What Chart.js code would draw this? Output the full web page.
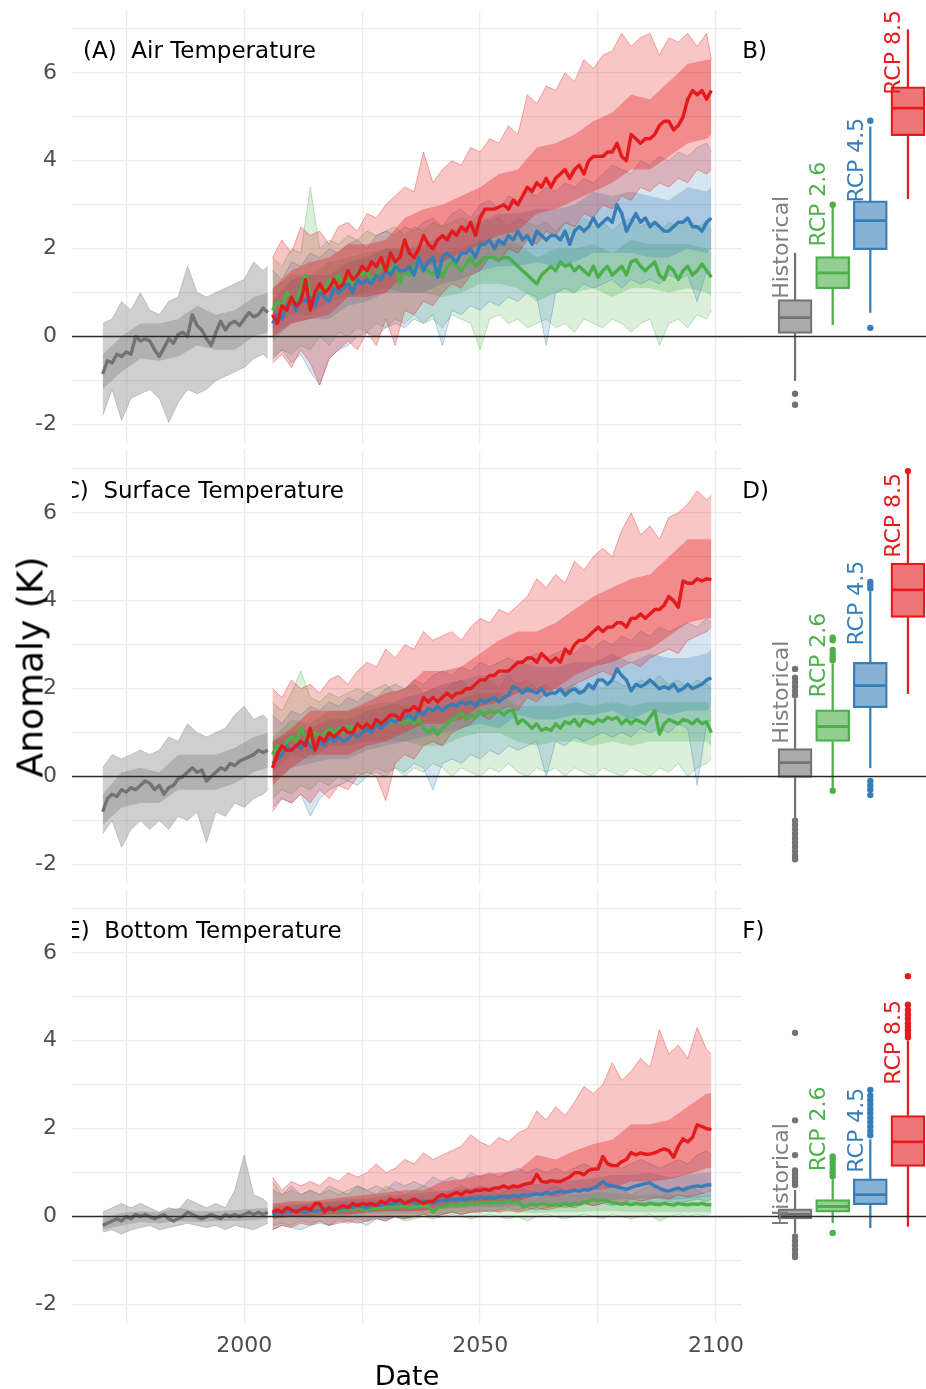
<!DOCTYPE html>
<html>
<head>
<meta charset="utf-8">
<script src="https://cdn.jsdelivr.net/npm/chart.js@4.4.1/dist/chart.umd.min.js"></script>
<style>
    body { margin: 0; background: #fff; width: 926px; height: 1389px; position: relative; overflow: hidden; font-family: "DejaVu Sans", sans-serif; }
    canvas { position: absolute; }
    .axis-title { position: absolute; white-space: nowrap; color: #000; transform: translate(-50%, -50%); }
    #y-title { left: 30px; top: 667px; font-size: 36px; transform: translate(-50%, -50%) rotate(-90deg); }
    #x-title { left: 407px; top: 1375px; font-size: 27px; }
</style>
</head>
<body>
<canvas id="lineA" width="760" height="443" style="left:0;top:0"></canvas>
<canvas id="lineC" width="760" height="443" style="left:0;top:440px"></canvas>
<canvas id="lineE" width="760" height="493" style="left:0;top:880px"></canvas>
<canvas id="boxB" width="184" height="443" style="left:742px;top:0"></canvas>
<canvas id="boxD" width="184" height="443" style="left:742px;top:440px"></canvas>
<canvas id="boxF" width="184" height="443" style="left:742px;top:880px"></canvas>
<div class="axis-title" id="y-title">Anomaly (K)</div>
<div class="axis-title" id="x-title">Date</div>

<script>
// ---- categories / ticks ----
const scenarios = ["Historical", "RCP 2.6", "RCP 4.5", "RCP 8.5"];
const scenarioColors = ["#737373", "#4daf4a", "#377eb8", "#e41a1c"];
const boxPositions = [1, 2, 3, 4];
const xGridYears = [1975, 2000, 2025, 2050, 2075, 2100];
const xLabelYears = [2000, 2050, 2100];
const yGridValues = [-2, -1, 0, 1, 2, 3, 4, 5, 6, 7];
const yLabelValues = [-2, 0, 2, 4, 6];

function range(a, b) { const out = []; for (let v = a; v <= b; v++) out.push(v); return out; }
function stepYears(a, b, step) { const out = []; for (let v = a; v < b; v += step) out.push(v); out.push(b); return out; }

const histYears = range(1970, 2005);
const rcpYears = range(2006, 2099);
const histEnvYears = stepYears(1970, 2005, 2);
const rcpEnvYears = stepYears(2006, 2099, 2);
const histCoreYears = stepYears(1970, 2005, 4);
const rcpCoreYears = stepYears(2006, 2099, 4);

// ---- (A) Air temperature ----
const airHistMean = [-0.85,-0.55,-0.6,-0.4,-0.45,-0.35,-0.4,0.0,-0.1,-0.05,
    -0.1,-0.3,-0.45,-0.25,-0.05,-0.15,0.05,0.1,0.0,0.5,
    0.25,0.15,-0.05,-0.2,0.1,0.35,0.15,0.3,0.35,0.25,
    0.4,0.55,0.45,0.5,0.65,0.55];
const airHistHi = [0.3,0.4,0.8,0.6,1.0,0.6,0.5,0.8,0.9,1.6,1.0,0.9,1.0,1.1,1.2,1.3,1.7,1.5,1.6];
const airHistLo = [-1.8,-1.2,-1.9,-1.4,-1.3,-1.2,-1.4,-1.95,-1.5,-1.2,-1.3,-1.2,-1.0,-0.9,-0.8,-0.7,-0.5,-0.4,-0.5];
const airHistCoreHi = [-0.4,0.0,0.3,0.3,0.4,0.7,0.5,0.6,0.9,1.0];
const airHistCoreLo = [-1.2,-0.8,-0.5,-0.55,-0.45,-0.2,-0.3,-0.3,0.0,0.1];

const airRcp26 = [0.6,0.8,0.7,1.0,0.9,0.8,1.1,1.4,0.9,1.0,
    1.1,1.0,1.3,1.2,1.4,1.1,1.3,1.2,1.5,1.4,
    1.5,1.3,1.4,1.6,1.6,1.5,1.7,1.2,1.5,1.4,
    1.6,1.7,1.5,1.5,1.4,1.6,1.35,1.6,1.7,1.6,
    1.5,1.65,1.8,1.6,1.7,1.8,1.8,1.8,1.75,1.8,
    1.8,1.7,1.6,1.5,1.4,1.3,1.2,1.4,1.5,1.6,
    1.5,1.7,1.6,1.65,1.5,1.6,1.5,1.4,1.6,1.35,
    1.5,1.6,1.4,1.5,1.6,1.4,1.7,1.75,1.6,1.5,
    1.6,1.7,1.4,1.3,1.6,1.5,1.3,1.5,1.6,1.4,
    1.5,1.65,1.5,1.35];
const airRcp45 = [0.3,0.5,0.4,0.7,0.8,0.6,0.9,0.8,0.9,0.7,
    1.0,0.9,0.8,1.1,1.0,1.1,1.2,1.0,1.3,1.2,
    1.3,1.2,1.4,1.3,1.5,1.4,1.6,1.5,1.5,1.6,
    1.4,1.8,1.5,1.7,1.8,1.35,1.8,1.9,1.8,1.7,
    1.9,1.9,2.0,1.8,2.1,2.1,2.2,2.0,2.2,2.1,
    2.3,2.2,2.4,2.2,2.3,2.1,2.4,2.3,2.2,2.3,
    2.3,2.2,2.4,2.1,2.4,2.5,2.4,2.5,2.7,2.5,
    2.6,2.7,2.6,3.0,2.8,2.4,2.6,2.8,2.6,2.7,
    2.5,2.6,2.5,2.4,2.4,2.5,2.6,2.6,2.7,2.5,
    2.5,2.4,2.6,2.7];
const airRcp85 = [0.5,0.3,0.7,0.6,0.9,0.7,0.8,1.3,0.6,1.0,
    1.2,1.0,1.1,1.3,1.1,1.2,1.5,1.3,1.4,1.6,
    1.5,1.7,1.6,1.8,1.5,1.9,1.7,1.8,2.2,1.9,
    1.8,2.0,2.3,2.1,2.0,2.2,2.3,2.2,2.4,2.3,
    2.5,2.4,2.6,2.3,2.7,2.9,2.9,2.9,2.95,3.0,
    2.9,3.1,3.0,3.2,3.4,3.3,3.5,3.4,3.6,3.4,
    3.6,3.7,3.8,3.6,3.8,3.9,3.7,4.0,4.1,4.1,
    4.1,4.2,4.2,4.4,4.1,4.0,4.6,4.5,4.4,4.5,
    4.5,4.6,4.8,4.9,4.9,4.7,4.8,5.0,5.4,5.6,
    5.5,5.6,5.4,5.6];

const airRcp26Hi = [1.8,1.6,2.0,1.9,3.4,2.0,2.2,2.1,2.3,2.2,
    2.4,2.3,2.4,2.5,2.3,2.5,2.4,2.6,2.5,2.6,
    2.7,2.6,2.8,2.6,2.7,2.5,2.7,2.6,2.5,2.6,
    2.4,2.6,2.5,2.7,2.5,2.6,2.4,2.6,2.7,2.5,
    2.6,2.4,2.6,2.5,2.7,2.5,2.6,2.4];
const airRcp26Lo = [-0.5,-0.3,-0.4,-0.2,-0.3,0.0,-0.2,0.1,0.0,0.2,
    0.1,0.3,0.2,0.4,0.3,0.5,0.3,0.4,0.2,0.5,
    0.4,0.3,-0.3,0.4,0.5,0.3,0.4,0.2,0.3,0.4,
    0.2,0.3,0.1,0.4,0.3,0.2,0.4,0.3,0.1,0.3,
    0.4,-0.2,0.3,0.4,0.2,0.5,0.4,0.6];
const airRcp45Hi = [1.5,1.3,1.7,1.6,1.9,1.8,2.0,1.9,2.1,2.2,
    2.0,2.3,2.4,2.3,2.5,2.4,2.6,2.7,2.5,2.8,
    2.9,2.7,3.0,3.1,2.9,3.2,3.1,3.3,3.2,3.4,
    3.3,3.5,3.4,3.6,3.5,3.7,3.9,3.8,3.7,4.0,
    3.9,4.1,4.0,4.2,4.1,4.3,4.4,4.2];
const airRcp45Lo = [-0.5,-0.3,-0.6,-0.4,-0.8,-1.1,-0.5,-0.3,-0.2,0.0,
    0.1,0.0,0.2,0.3,0.2,0.4,0.3,0.5,-0.2,0.6,
    0.5,0.7,0.6,0.8,0.7,0.9,0.8,1.0,0.9,-0.2,
    1.0,1.1,1.0,1.2,1.1,1.2,1.3,1.1,1.3,1.2,
    1.3,1.2,1.4,1.3,1.4,0.8,1.5,1.4];
const airRcp85Hi = [1.8,2.2,1.9,2.5,2.3,2.4,2.1,2.5,2.6,2.4,
    2.8,2.7,3.0,3.2,3.4,3.3,4.2,3.5,3.8,4.0,
    3.9,4.3,4.2,4.5,4.4,4.8,4.6,5.5,5.3,5.7,
    5.6,6.0,5.8,6.3,6.1,6.4,6.5,6.9,6.6,6.8,
    6.9,6.4,6.8,6.7,6.9,6.6,6.9,6.3];
const airRcp85Lo = [-0.6,-0.4,-0.7,-0.3,-0.6,-1.1,-0.5,-0.3,-0.1,-0.3,
    0.1,-0.2,0.4,-0.2,0.6,0.5,0.8,0.7,1.0,1.2,
    1.1,1.4,1.5,1.8,1.7,2.0,1.9,2.2,2.1,2.4,
    2.3,2.6,2.5,2.8,2.7,3.0,2.9,3.2,3.1,3.4,
    3.3,3.5,3.4,3.6,3.5,3.8,3.7,3.8];

const airRcp26CoreHi = [1.1,1.4,1.4,1.7,1.8,1.9,2.0,2.0,2.0,1.9,2.0,2.2,2.2,2.1,1.8,2.0,2.0,2.1,1.9,2.2,2.1,2.1,2.1,2.0,1.9];
const airRcp26CoreLo = [0.2,0.5,0.5,0.8,0.9,1.0,1.1,1.0,1.0,0.9,1.0,1.2,1.2,1.1,0.8,1.0,1.0,1.1,0.9,1.1,1.1,1.0,1.1,1.0,0.9];
const airRcp45CoreHi = [0.8,1.3,1.4,1.4,1.7,1.8,2.0,2.0,2.1,2.3,2.5,2.6,2.8,2.8,2.9,2.9,3.0,3.3,3.2,3.3,3.2,3.1,3.4,3.3,3.4];
const airRcp45CoreLo = [-0.1,0.3,0.4,0.4,0.7,0.8,1.0,1.0,1.0,1.2,1.3,1.5,1.6,1.6,1.7,1.6,1.7,1.9,1.9,1.9,1.8,1.8,2.0,1.9,2.0];
const airRcp85CoreHi = [1.1,1.5,1.7,1.8,2.1,2.1,2.2,2.7,2.9,3.0,3.2,3.4,3.7,3.8,4.3,4.4,4.6,4.9,5.1,5.5,5.4,5.8,6.2,6.3,6.3];
const airRcp85CoreLo = [0.0,0.3,0.4,0.5,0.9,0.9,1.0,1.4,1.6,1.7,1.9,2.1,2.3,2.4,2.8,2.9,3.1,3.3,3.5,3.8,3.8,4.1,4.4,4.5,4.6];

// ---- (C) Surface temperature ----
const surfHistMean = [-0.8,-0.5,-0.4,-0.45,-0.3,-0.35,-0.25,-0.3,-0.2,-0.1,
    -0.15,-0.3,-0.2,-0.4,-0.25,-0.2,-0.05,0.0,0.1,0.2,
    0.1,0.15,-0.1,0.0,0.1,0.2,0.15,0.3,0.25,0.35,
    0.4,0.45,0.5,0.6,0.55,0.6];
const surfHistHi = [0.2,0.5,0.4,0.5,0.6,0.5,0.6,0.9,0.8,1.2,1.0,0.9,1.0,1.1,1.4,1.6,1.3,1.4,1.3];
const surfHistLo = [-1.3,-1.0,-1.6,-1.2,-1.0,-1.2,-1.0,-1.2,-0.9,-1.0,-0.8,-1.5,-0.8,-0.9,-0.6,-0.7,-0.5,-0.4,-0.3];
const surfHistCoreHi = [-0.4,0.1,0.2,0.1,0.5,0.5,0.5,0.65,0.9,1.0];
const surfHistCoreLo = [-1.1,-0.7,-0.6,-0.6,-0.3,-0.3,-0.3,-0.15,0.1,0.2];

const surfRcp26 = [0.5,0.7,0.6,0.8,0.9,0.8,1.1,0.9,0.8,1.0,
    0.9,1.0,1.1,1.0,1.1,1.0,1.15,1.1,1.2,1.1,
    1.2,1.1,1.25,1.2,1.3,1.2,1.3,1.25,1.2,1.3,
    1.2,1.3,1.1,1.0,1.1,0.95,1.1,1.2,1.3,1.35,
    1.45,1.3,1.4,1.35,1.5,1.4,1.5,1.45,1.5,1.4,
    1.5,1.5,1.2,1.3,1.2,1.1,1.2,1.05,1.1,1.05,
    1.2,1.1,1.25,1.2,1.3,1.15,1.3,1.25,1.2,1.3,
    1.25,1.35,1.3,1.35,1.2,1.3,1.2,1.3,1.25,1.2,
    1.35,1.5,0.97,1.2,1.3,1.25,1.2,1.3,1.27,1.2,
    1.3,1.2,1.25,1.0];
const surfRcp45 = [0.3,0.4,0.5,0.7,0.6,0.7,0.65,0.8,0.7,0.6,
    0.8,0.7,0.9,0.8,0.9,0.8,0.85,1.0,0.9,1.0,
    1.1,1.0,1.2,1.1,1.2,1.3,1.25,1.3,1.35,1.4,
    1.3,1.5,1.4,1.55,1.5,1.6,1.5,1.6,1.65,1.6,
    1.7,1.65,1.7,1.6,1.75,1.7,1.75,1.8,1.7,1.8,
    1.85,2.05,2.0,1.9,2.0,1.95,1.9,2.0,1.85,1.9,
    1.9,2.0,1.85,1.95,2.0,1.9,1.95,2.1,2.0,2.2,
    2.2,2.1,2.2,2.45,2.3,2.2,1.95,2.1,2.05,2.1,
    2.2,2.1,2.0,2.05,2.0,2.1,1.95,2.0,2.1,2.0,
    2.05,2.1,2.2,2.25];
const surfRcp85 = [0.2,0.5,0.7,0.6,0.6,0.7,0.8,0.7,1.1,0.6,
    0.9,0.8,1.0,0.9,1.0,1.1,1.0,1.0,1.2,1.1,
    1.2,1.1,1.3,1.2,1.3,1.4,1.4,1.3,1.5,1.5,
    1.6,1.5,1.8,1.7,1.8,1.7,1.8,1.9,1.8,1.9,
    1.9,2.0,2.0,2.1,2.2,2.2,2.3,2.3,2.4,2.4,
    2.4,2.5,2.6,2.6,2.7,2.7,2.6,2.8,2.7,2.6,
    2.7,2.6,2.9,2.8,3.0,3.1,3.1,3.2,3.3,3.4,
    3.3,3.4,3.4,3.5,3.5,3.4,3.6,3.6,3.7,3.6,
    3.7,3.8,3.8,3.9,4.1,4.0,3.85,4.45,4.4,4.4,
    4.5,4.45,4.5,4.48];

const surfRcp26Hi = [1.7,1.5,1.9,2.4,1.8,1.7,1.9,1.8,1.9,2.0,
    1.9,2.0,2.1,1.9,2.0,2.1,1.9,2.0,1.9,2.1,
    2.2,2.0,2.1,2.2,2.0,2.3,2.1,2.2,2.0,2.1,
    1.9,2.0,2.1,1.9,2.1,2.0,2.2,2.1,2.0,2.2,
    2.1,2.3,2.1,2.2,2.0,2.2,2.1,2.0];
const surfRcp26Lo = [-0.5,-0.3,-0.4,-0.2,-0.3,-0.1,-0.2,0.0,-0.1,0.1,
    0.0,0.2,0.1,0.2,0.0,0.2,0.1,0.3,0.2,0.0,
    0.2,0.1,0.0,0.2,0.1,0.3,0.1,0.0,0.2,0.1,
    0.2,0.0,0.2,0.1,0.0,0.2,0.1,0.0,0.2,0.1,
    0.0,0.2,0.1,0.3,0.0,0.2,0.3,0.4];
const surfRcp45Hi = [1.4,1.2,1.5,1.4,1.6,1.5,1.7,1.6,1.8,1.7,
    1.9,1.8,2.0,2.1,2.0,2.2,2.1,2.3,2.4,2.3,
    2.5,2.4,2.6,2.5,2.6,2.7,2.6,2.7,2.8,2.7,
    2.8,2.9,2.8,3.0,2.9,3.1,3.0,3.2,3.1,3.3,
    3.2,3.4,3.3,3.4,3.5,3.4,3.6,3.5];
const surfRcp45Lo = [-0.7,-0.5,-0.6,-0.4,-0.9,-0.5,-0.3,-0.2,-0.1,-0.2,
    0.0,0.1,0.0,0.2,0.1,0.3,0.2,-0.3,0.3,0.4,
    0.3,0.5,0.4,0.6,0.5,0.7,0.6,0.7,0.8,0.0,
    0.8,0.7,0.9,0.8,0.9,1.0,0.9,1.0,0.9,1.1,
    1.0,1.1,1.0,1.2,1.1,-0.2,1.2,1.3];
const surfRcp85Hi = [2.0,1.8,2.2,2.0,2.1,1.9,2.2,2.3,2.1,2.4,
    2.6,2.5,2.9,2.7,3.0,2.9,3.3,3.1,3.2,3.3,
    3.1,3.4,3.6,3.5,3.8,3.7,3.9,4.1,4.5,4.3,
    4.6,4.4,4.9,4.7,5.0,5.2,5.0,5.6,6.0,5.5,
    5.7,5.4,5.9,6.0,6.2,6.5,6.3,6.4];
const surfRcp85Lo = [-0.8,-0.5,-0.6,-0.4,-0.6,-0.3,-0.5,-0.2,-0.3,0.0,
    0.1,0.0,-0.55,0.3,0.5,0.4,0.7,0.8,0.7,1.0,
    1.1,1.2,1.4,1.3,1.5,1.6,1.5,1.8,1.7,1.9,
    2.0,1.9,2.1,2.2,2.3,2.4,2.3,2.5,2.6,2.5,
    2.7,2.8,2.9,2.8,3.1,3.2,3.3,3.4];

const surfRcp26CoreHi = [0.9,1.3,1.2,1.5,1.5,1.6,1.7,1.6,1.5,1.5,1.8,1.9,1.9,1.6,1.6,1.6,1.7,1.6,1.7,1.6,1.7,1.7,1.7,1.7,1.5];
const surfRcp26CoreLo = [0.1,0.5,0.4,0.7,0.7,0.8,0.8,0.8,0.7,0.7,0.9,1.0,1.0,0.8,0.7,0.8,0.8,0.7,0.8,0.7,0.8,0.8,0.8,0.8,0.7];
const surfRcp45CoreHi = [0.8,1.0,1.1,1.3,1.3,1.5,1.6,1.8,1.9,2.1,2.2,2.3,2.3,2.6,2.5,2.5,2.6,2.6,2.8,2.6,2.8,2.7,2.7,2.8,2.9];
const surfRcp45CoreLo = [-0.1,0.2,0.3,0.4,0.4,0.6,0.7,0.8,0.9,1.0,1.1,1.2,1.1,1.4,1.3,1.3,1.4,1.4,1.5,1.3,1.5,1.4,1.5,1.5,1.6];
const surfRcp85CoreHi = [0.8,1.1,1.5,1.5,1.5,1.7,1.9,2.0,2.4,2.4,2.5,2.8,3.1,3.3,3.3,3.5,3.8,4.1,4.3,4.5,4.6,5.0,5.4,5.4,5.4];
const surfRcp85CoreLo = [-0.2,0.2,0.5,0.5,0.5,0.7,0.8,1.0,1.2,1.2,1.3,1.6,1.7,1.9,1.9,2.0,2.3,2.5,2.6,2.8,2.9,3.2,3.5,3.6,3.6];

// ---- (E) Bottom temperature ----
const botHistMean = [-0.2,-0.15,-0.1,-0.05,-0.1,0.0,-0.05,0.05,0.0,0.05,
    0.0,-0.05,0.0,0.05,-0.05,-0.1,-0.05,0.0,0.1,0.05,
    0.0,-0.05,0.0,0.05,0.0,-0.05,0.05,0.0,0.05,0.0,
    0.05,0.1,0.05,0.1,0.05,0.1];
const botHistHi = [0.1,0.2,0.3,0.2,0.3,0.2,0.1,0.2,0.15,0.4,0.3,0.2,0.3,0.2,0.6,1.4,0.5,0.4,0.3];
const botHistLo = [-0.35,-0.3,-0.4,-0.3,-0.25,-0.2,-0.3,-0.25,-0.2,-0.15,-0.2,-0.25,-0.2,-0.3,-0.2,-0.25,-0.3,-0.2,-0.15];
const botHistCoreHi = [-0.05,0.08,0.12,0.1,0.2,0.12,0.12,0.15,0.18,0.2];
const botHistCoreLo = [-0.3,-0.2,-0.12,-0.15,-0.1,-0.12,-0.1,-0.1,-0.08,-0.05];

const botRcp26 = [0.1,0.12,0.1,0.15,0.12,0.1,0.14,0.12,0.15,0.13,
    0.15,0.13,0.16,0.15,0.17,0.16,0.18,0.16,0.2,0.18,
    0.16,0.2,0.18,0.22,0.2,0.23,0.2,0.22,0.25,0.2,
    0.23,0.22,0.25,0.23,0.1,0.2,0.22,0.25,0.28,0.25,
    0.3,0.27,0.3,0.28,0.3,0.32,0.3,0.33,0.3,0.32,
    0.34,0.32,0.34,0.23,0.25,0.28,0.26,0.3,0.27,0.25,
    0.28,0.27,0.3,0.26,0.3,0.28,0.32,0.35,0.39,0.36,
    0.38,0.35,0.32,0.3,0.28,0.3,0.27,0.3,0.28,0.27,
    0.3,0.28,0.27,0.3,0.28,0.26,0.3,0.28,0.27,0.29,
    0.28,0.3,0.27,0.27];
const botRcp45 = [0.05,0.1,0.08,0.12,0.1,0.15,0.12,0.1,0.15,0.12,
    0.15,0.18,0.15,0.2,0.18,0.2,0.22,0.2,0.25,0.22,
    0.2,0.25,0.28,0.25,0.3,0.28,0.3,0.32,0.3,0.35,
    0.32,0.3,0.35,0.33,0.3,0.35,0.38,0.36,0.4,0.38,
    0.4,0.39,0.42,0.4,0.45,0.42,0.44,0.42,0.45,0.46,
    0.44,0.48,0.45,0.5,0.48,0.5,0.52,0.5,0.55,0.52,
    0.55,0.58,0.55,0.58,0.6,0.58,0.62,0.6,0.65,0.7,
    0.8,0.72,0.7,0.68,0.65,0.62,0.66,0.7,0.72,0.75,
    0.77,0.7,0.65,0.6,0.58,0.62,0.65,0.6,0.65,0.68,
    0.7,0.68,0.72,0.72];
const botRcp85 = [0.1,0.15,0.1,0.2,0.15,0.1,0.16,0.2,0.15,0.3,
    0.3,0.1,0.2,0.15,0.2,0.25,0.2,0.3,0.25,0.3,
    0.27,0.3,0.25,0.35,0.3,0.4,0.35,0.39,0.3,0.35,
    0.4,0.35,0.3,0.35,0.34,0.45,0.5,0.45,0.5,0.55,
    0.5,0.58,0.55,0.6,0.6,0.62,0.6,0.65,0.65,0.7,
    0.65,0.7,0.68,0.72,0.75,0.77,0.96,0.8,0.78,0.82,
    0.8,0.8,0.85,0.9,1.0,1.0,0.95,1.05,1.08,1.08,
    1.37,1.2,1.16,1.16,1.25,1.3,1.46,1.4,1.45,1.42,
    1.42,1.45,1.5,1.54,1.5,1.35,1.6,1.77,1.7,1.8,
    2.09,2.05,2.0,1.98];

const botRcp26Hi = [0.8,0.5,0.6,0.5,0.6,0.5,0.6,0.5,0.6,0.7,
    0.6,0.5,0.7,0.6,0.5,0.6,0.7,0.6,0.5,0.6,
    0.7,0.6,0.7,0.6,0.5,0.6,0.7,0.6,0.5,0.6,
    0.7,0.6,0.5,0.6,0.7,0.6,0.7,0.6,0.5,0.6,
    0.7,0.6,0.5,0.6,0.7,0.6,0.5,0.6];
const botRcp26Lo = [-0.2,-0.15,-0.2,-0.1,-0.15,-0.1,-0.2,-0.05,-0.1,-0.05,
    -0.1,0.0,-0.05,0.0,-0.1,-0.05,0.0,-0.05,0.0,0.05,
    0.0,-0.05,0.0,0.05,0.0,-0.05,0.0,-0.1,0.0,0.05,
    0.0,-0.05,0.0,0.05,0.0,-0.05,0.05,0.0,-0.05,0.0,
    0.05,-0.1,0.0,0.05,0.0,0.05,0.0,0.1];
const botRcp45Hi = [0.6,0.5,0.7,0.5,0.6,0.5,0.7,0.6,0.5,0.7,
    0.6,0.7,0.6,0.8,0.7,0.8,0.7,0.9,0.8,0.9,
    0.8,1.0,0.9,1.0,0.9,1.0,1.1,1.0,1.1,1.0,
    1.1,1.0,1.1,1.2,1.1,1.3,1.2,1.1,1.2,1.3,
    1.2,1.1,1.2,1.3,1.2,1.4,1.5,1.4];
const botRcp45Lo = [-0.3,-0.2,-0.25,-0.3,-0.2,-0.15,-0.2,-0.1,-0.15,-0.1,
    -0.2,-0.05,-0.1,0.0,-0.05,0.0,0.05,0.0,0.05,0.1,
    0.05,0.1,0.15,0.1,0.15,0.2,0.15,0.2,0.15,0.2,
    0.25,0.2,0.25,0.3,0.25,0.3,0.25,0.3,0.35,0.3,
    0.35,0.3,0.35,0.3,0.35,0.4,0.35,0.4];
const botRcp85Hi = [0.9,0.6,0.8,0.7,0.8,0.7,0.9,0.8,1.0,0.9,
    1.0,1.2,1.0,1.1,1.3,1.2,1.45,1.3,1.4,1.5,
    1.6,1.86,1.7,1.6,1.8,1.7,1.9,2.0,2.4,2.2,
    2.5,2.3,2.6,2.96,2.8,3.0,3.5,3.1,3.3,3.6,
    3.4,4.25,3.7,3.9,3.6,4.3,3.8,3.7];
const botRcp85Lo = [-0.3,-0.2,-0.25,-0.15,-0.2,-0.1,-0.2,-0.15,-0.1,-0.15,
    -0.1,-0.05,-0.1,0.0,-0.05,0.0,0.05,0.0,0.05,0.1,
    0.05,0.1,0.1,0.15,0.1,0.15,0.1,0.15,0.2,0.15,
    0.2,0.25,0.2,0.3,0.25,0.3,0.35,0.3,0.4,0.35,
    0.4,0.45,0.4,0.5,0.45,0.5,0.55,0.6];

const botRcp26CoreHi = [0.25,0.3,0.3,0.32,0.35,0.38,0.4,0.4,0.42,0.42,0.48,0.5,0.52,0.5,0.45,0.48,0.5,0.55,0.55,0.5,0.5,0.5,0.48,0.48,0.48];
const botRcp26CoreLo = [-0.02,0.0,0.0,0.02,0.02,0.05,0.05,0.06,0.06,0.05,0.1,0.1,0.12,0.1,0.08,0.1,0.1,0.12,0.12,0.1,0.1,0.1,0.1,0.1,0.1];
const botRcp45CoreHi = [0.2,0.25,0.3,0.35,0.4,0.42,0.48,0.5,0.55,0.58,0.62,0.68,0.68,0.72,0.75,0.78,0.82,0.88,0.95,0.95,1.0,0.9,0.95,1.0,1.0];
const botRcp45CoreLo = [-0.05,0.0,0.0,0.05,0.05,0.08,0.12,0.12,0.15,0.18,0.2,0.22,0.22,0.25,0.28,0.28,0.32,0.35,0.38,0.4,0.42,0.38,0.4,0.45,0.45];
const botRcp85CoreHi = [0.3,0.35,0.35,0.4,0.45,0.5,0.55,0.6,0.6,0.8,0.85,0.95,1.0,1.05,1.4,1.3,1.5,1.65,1.75,2.1,2.1,2.2,2.5,2.8,2.8];
const botRcp85CoreLo = [-0.05,0.0,0.0,0.05,0.05,0.1,0.12,0.12,0.12,0.25,0.25,0.3,0.35,0.35,0.5,0.45,0.55,0.6,0.65,0.8,0.8,0.85,0.95,1.1,1.1];

// ---- box summaries (Historical, RCP 2.6, RCP 4.5, RCP 8.5) ----
const airBoxLow = [-1.0, 0.27, 0.55, 3.14];
const airBoxQ1 = [0.07, 1.09, 1.98, 4.57];
const airBoxMed = [0.43, 1.45, 2.64, 5.2];
const airBoxQ3 = [0.84, 1.82, 3.09, 5.68];
const airBoxHigh = [1.9, 3.0, 4.77, 6.98];
const airOutliers = [[-1.3, -1.55], [3.0], [4.91, 0.2], []];
const airLabelY = [0.86, 2.05, 3.05, 5.5];

const surfBoxLow = [-0.93, -0.25, 0.2, 1.89];
const surfBoxQ1 = [-0.02, 0.8, 1.57, 3.62];
const surfBoxMed = [0.32, 1.14, 2.07, 4.25];
const surfBoxQ3 = [0.64, 1.52, 2.6, 4.86];
const surfBoxHigh = [1.77, 2.57, 4.2, 6.88];
const surfOutliers = [
    [1.85, 1.95, 2.05, 2.15, 2.25, 2.45, -1.0, -1.1, -1.2, -1.3, -1.4, -1.5, -1.6, -1.7, -1.8, -1.88],
    [2.65, 2.72, 2.8, 2.88, 3.1, 3.16, -0.32],
    [4.28, 4.36, 4.43, -0.1, -0.2, -0.3, -0.42],
    [6.95]
];
const surfLabelY = [0.75, 1.8, 2.98, 4.98];

const botBoxLow = [-0.37, -0.14, -0.25, -0.22];
const botBoxQ1 = [-0.05, 0.1, 0.27, 1.14];
const botBoxMed = [0.05, 0.23, 0.5, 1.7];
const botBoxQ3 = [0.18, 0.39, 0.86, 2.3];
const botBoxHigh = [0.6, 0.84, 1.75, 4.0];
const botOutliers = [
    [0.72, 0.8, 0.88, 0.96, 1.05, 1.4, 2.19, 4.18, -0.45, -0.55, -0.65, -0.75, -0.85, -0.92],
    [0.92, 1.0, 1.08, 1.16, 1.24, 1.32, 1.37, -0.37],
    [1.85, 1.95, 2.05, 2.15, 2.25, 2.35, 2.45, 2.55, 2.65, 2.75, 2.88],
    [4.08, 4.16, 4.24, 4.32, 4.4, 4.5, 4.6, 4.7, 4.82, 5.47]
];
const botLabelY = [-0.22, 1.03, 1.0, 3.0];

// ---- look ----
const FONT = "DejaVu Sans";
const Y_MIN = -2.42, Y_MAX = 7.43;
const X_MIN = 1963.5, X_MAX = 2105.5;
const BOX_X_MIN = -0.41, BOX_X_MAX = 4.48;
const outerAlpha = [0.34, 0.2, 0.2, 0.25];
const coreAlpha = [0.32, 0.28, 0.28, 0.34];
Chart.defaults.font.family = FONT;

function rgba(hex, a) {
    const n = parseInt(hex.slice(1), 16);
    return `rgba(${(n >> 16) & 255},${(n >> 8) & 255},${n & 255},${a})`;
}

function toPoints(xs, ys) {
    return ys.map((y, i) => ({ x: xs[i], y: y }));
}

const zeroLine = {
    id: "zeroLine",
    afterDatasetsDraw(chart) {
        const { ctx, chartArea: a, scales } = chart;
        const py = scales.y.getPixelForValue(0);
        ctx.save();
        ctx.strokeStyle = "#2b2b2b";
        ctx.lineWidth = 1.5;
        ctx.beginPath();
        ctx.moveTo(a.left, py);
        ctx.lineTo(a.right, py);
        ctx.stroke();
        ctx.restore();
    }
};

const panelTitle = {
    id: "panelTitle",
    afterDatasetsDraw(chart, args, opts) {
        const { ctx, chartArea: a, scales } = chart;
        ctx.save();
        ctx.beginPath();
        ctx.rect(a.left, a.top, a.right - a.left, a.bottom - a.top);
        ctx.clip();
        ctx.font = `23px "${FONT}"`;
        ctx.fillStyle = "#000";
        ctx.textAlign = opts.align;
        ctx.textBaseline = "middle";
        ctx.fillText(opts.text, scales.x.getPixelForValue(opts.x), scales.y.getPixelForValue(opts.y));
        ctx.restore();
    }
};

const boxLabels = {
    id: "boxLabels",
    afterDatasetsDraw(chart, args, opts) {
        const { ctx, scales } = chart;
        scenarios.forEach((name, i) => {
            ctx.save();
            ctx.translate(scales.x.getPixelForValue(boxPositions[i] - 0.35), scales.y.getPixelForValue(opts.ys[i]));
            ctx.rotate(-Math.PI / 2);
            ctx.font = `22px "${FONT}"`;
            ctx.fillStyle = i === 0 ? "#7f7f7f" : scenarioColors[i];
            ctx.textAlign = "left";
            ctx.textBaseline = "middle";
            ctx.fillText(name, 0, 0);
            ctx.restore();
        });
    }
};

function bandPair(xs, lo, hi, col, alpha, edge, order) {
    return [
        { data: toPoints(xs, lo), borderColor: rgba(col, edge), borderWidth: edge ? 1 : 0,
          pointRadius: 0, fill: false, order: order },
        { data: toPoints(xs, hi), borderColor: rgba(col, edge), borderWidth: edge ? 1 : 0,
          pointRadius: 0, fill: "-1", backgroundColor: rgba(col, alpha), order: order }
    ];
}

function makeLineChart(id, p, title, showX) {
    const bands = [
        [histEnvYears, p.histLo, p.histHi, histCoreYears, p.histCoreLo, p.histCoreHi],
        [rcpEnvYears, p.rcp26Lo, p.rcp26Hi, rcpCoreYears, p.rcp26CoreLo, p.rcp26CoreHi],
        [rcpEnvYears, p.rcp45Lo, p.rcp45Hi, rcpCoreYears, p.rcp45CoreLo, p.rcp45CoreHi],
        [rcpEnvYears, p.rcp85Lo, p.rcp85Hi, rcpCoreYears, p.rcp85CoreLo, p.rcp85CoreHi]
    ];
    const means = [[histYears, p.histMean], [rcpYears, p.rcp26], [rcpYears, p.rcp45], [rcpYears, p.rcp85]];
    const datasets = [];
    bands.forEach(([xs, lo, hi, cx, clo, chi], c) => {
        const col = scenarioColors[c];
        datasets.push(...bandPair(xs, lo, hi, col, outerAlpha[c], 0.35, 40 - 2 * c));
        datasets.push(...bandPair(cx, clo, chi, col, coreAlpha[c], 0, 39 - 2 * c));
    });
    means.forEach(([xs, ys], c) => {
        datasets.push({
            data: toPoints(xs, ys), borderColor: scenarioColors[c], borderWidth: 3.4,
            pointRadius: 0, fill: false, order: 10 - c, borderJoinStyle: "round"
        });
    });

    return new Chart(document.getElementById(id), {
        type: "line",
        data: { datasets: datasets },
        options: {
            responsive: false,
            animation: false,
            devicePixelRatio: 1,
            events: [],
            layout: { autoPadding: false, padding: { top: 10, right: 18, left: 0, bottom: 0 } },
            plugins: {
                legend: { display: false },
                tooltip: { enabled: false },
                panelTitle: { text: title, x: 1990.5, y: 6.47, align: "center" }
            },
            scales: {
                x: {
                    type: "linear", min: X_MIN, max: X_MAX,
                    afterBuildTicks: s => { s.ticks = xGridYears.map(v => ({ value: v })); },
                    afterFit: s => { s.height = showX ? 50 : 0; s.paddingLeft = 0; s.paddingRight = 0; },
                    grid: { color: "#ebebeb", lineWidth: 1.3, drawTicks: false },
                    border: { display: false },
                    ticks: {
                        display: showX, padding: 10, autoSkip: false, maxRotation: 0,
                        color: "#4d4d4d", font: { size: 22 },
                        callback: v => xLabelYears.includes(v) ? String(v) : ""
                    }
                },
                y: {
                    min: Y_MIN, max: Y_MAX,
                    afterBuildTicks: s => { s.ticks = yGridValues.map(v => ({ value: v })); },
                    afterFit: s => { s.width = 72; s.paddingTop = 0; s.paddingBottom = 0; },
                    grid: { color: "#ebebeb", lineWidth: 1.3, drawTicks: false },
                    border: { display: false },
                    ticks: {
                        padding: 15, color: "#4d4d4d", font: { size: 22 },
                        callback: v => yLabelValues.includes(v) ? String(v) : ""
                    }
                }
            }
        },
        plugins: [zeroLine, panelTitle]
    });
}

function makeBoxChart(id, box, title) {
    const whiskers = [], whiskerColors = [];
    const boxes = [], boxFills = [], boxLines = [];
    const medians = [], medianColors = [];
    const outliers = [], outlierColors = [];
    boxPositions.forEach((pos, i) => {
        const col = scenarioColors[i];
        whiskers.push({ x: pos, y: [box.low[i], box.q1[i]] }, { x: pos, y: [box.q3[i], box.high[i]] });
        whiskerColors.push(col, col);
        boxes.push({ x: pos, y: [box.q1[i], box.q3[i]] });
        boxFills.push(rgba(col, 0.6));
        boxLines.push(col);
        medians.push({ x: pos, y: box.med[i] });
        medianColors.push(col);
        box.out[i].forEach(v => {
            outliers.push({ x: pos, y: v });
            outlierColors.push(col);
        });
    });

    return new Chart(document.getElementById(id), {
        type: "bar",
        data: {
            datasets: [
                { type: "bar", data: whiskers, backgroundColor: whiskerColors, barThickness: 1.6, grouped: false, order: 4 },
                {
                    type: "bar", data: boxes, backgroundColor: boxFills, borderColor: boxLines,
                    borderWidth: 1.6, borderSkipped: false, barThickness: 34, grouped: false, order: 3
                },
                {
                    type: "line", data: medians, showLine: false, pointStyle: "line", pointRadius: 16.5,
                    pointBorderWidth: 2.8, pointBorderColor: medianColors, order: 2
                },
                {
                    type: "line", data: outliers, showLine: false, pointRadius: 3.2,
                    pointBackgroundColor: outlierColors, pointBorderColor: outlierColors, pointBorderWidth: 0, order: 1
                }
            ]
        },
        options: {
            responsive: false,
            animation: false,
            devicePixelRatio: 1,
            events: [],
            layout: { autoPadding: false, padding: { top: 10, right: 0, left: 0, bottom: 0 } },
            plugins: {
                legend: { display: false },
                tooltip: { enabled: false },
                panelTitle: { text: title, x: -0.64, y: 6.47, align: "left" },
                boxLabels: { ys: box.labelY }
            },
            scales: {
                x: { type: "linear", min: BOX_X_MIN, max: BOX_X_MAX, display: false, offset: false },
                y: { min: Y_MIN, max: Y_MAX, display: false }
            }
        },
        plugins: [zeroLine, boxLabels, panelTitle]
    });
}

makeLineChart("lineA", {
    histMean: airHistMean, histLo: airHistLo, histHi: airHistHi, histCoreLo: airHistCoreLo, histCoreHi: airHistCoreHi,
    rcp26: airRcp26, rcp45: airRcp45, rcp85: airRcp85,
    rcp26Lo: airRcp26Lo, rcp26Hi: airRcp26Hi, rcp45Lo: airRcp45Lo, rcp45Hi: airRcp45Hi,
    rcp85Lo: airRcp85Lo, rcp85Hi: airRcp85Hi,
    rcp26CoreLo: airRcp26CoreLo, rcp26CoreHi: airRcp26CoreHi, rcp45CoreLo: airRcp45CoreLo, rcp45CoreHi: airRcp45CoreHi,
    rcp85CoreLo: airRcp85CoreLo, rcp85CoreHi: airRcp85CoreHi
}, "(A)  Air Temperature", false);

makeLineChart("lineC", {
    histMean: surfHistMean, histLo: surfHistLo, histHi: surfHistHi, histCoreLo: surfHistCoreLo, histCoreHi: surfHistCoreHi,
    rcp26: surfRcp26, rcp45: surfRcp45, rcp85: surfRcp85,
    rcp26Lo: surfRcp26Lo, rcp26Hi: surfRcp26Hi, rcp45Lo: surfRcp45Lo, rcp45Hi: surfRcp45Hi,
    rcp85Lo: surfRcp85Lo, rcp85Hi: surfRcp85Hi,
    rcp26CoreLo: surfRcp26CoreLo, rcp26CoreHi: surfRcp26CoreHi, rcp45CoreLo: surfRcp45CoreLo, rcp45CoreHi: surfRcp45CoreHi,
    rcp85CoreLo: surfRcp85CoreLo, rcp85CoreHi: surfRcp85CoreHi
}, "(C)  Surface Temperature", false);

makeLineChart("lineE", {
    histMean: botHistMean, histLo: botHistLo, histHi: botHistHi, histCoreLo: botHistCoreLo, histCoreHi: botHistCoreHi,
    rcp26: botRcp26, rcp45: botRcp45, rcp85: botRcp85,
    rcp26Lo: botRcp26Lo, rcp26Hi: botRcp26Hi, rcp45Lo: botRcp45Lo, rcp45Hi: botRcp45Hi,
    rcp85Lo: botRcp85Lo, rcp85Hi: botRcp85Hi,
    rcp26CoreLo: botRcp26CoreLo, rcp26CoreHi: botRcp26CoreHi, rcp45CoreLo: botRcp45CoreLo, rcp45CoreHi: botRcp45CoreHi,
    rcp85CoreLo: botRcp85CoreLo, rcp85CoreHi: botRcp85CoreHi
}, "(E)  Bottom Temperature", true);

makeBoxChart("boxB", {
    low: airBoxLow, q1: airBoxQ1, med: airBoxMed, q3: airBoxQ3, high: airBoxHigh,
    out: airOutliers, labelY: airLabelY
}, "(B)");

makeBoxChart("boxD", {
    low: surfBoxLow, q1: surfBoxQ1, med: surfBoxMed, q3: surfBoxQ3, high: surfBoxHigh,
    out: surfOutliers, labelY: surfLabelY
}, "(D)");

makeBoxChart("boxF", {
    low: botBoxLow, q1: botBoxQ1, med: botBoxMed, q3: botBoxQ3, high: botBoxHigh,
    out: botOutliers, labelY: botLabelY
}, "(F)");
</script>
</body>
</html>
